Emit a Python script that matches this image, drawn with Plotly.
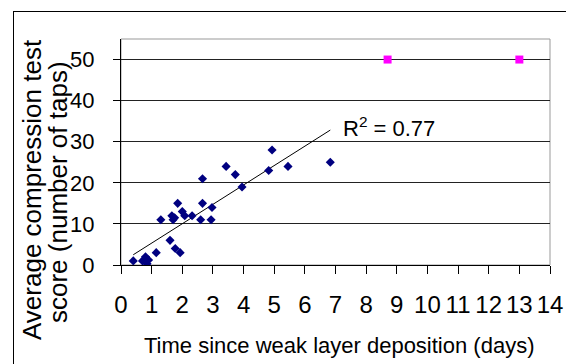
import numpy as np
import plotly.graph_objects as go

# Series 1: field observations (days, taps)
days = [0.4, 0.7, 0.8, 0.85, 0.9, 1.15, 1.3, 1.6, 1.66, 1.7, 1.75, 1.77, 1.85, 1.93,
        2.0, 2.08, 2.32, 2.6, 2.66, 2.66, 2.94, 2.97, 3.43, 3.73, 3.95, 4.82, 4.93,
        5.45, 6.83]
taps = [1, 1, 2, 0.3, 1.2, 3, 11, 6, 12, 11, 11.5, 4, 15, 3,
        13, 12, 12, 11, 21, 15, 11, 14, 24, 22, 19, 23, 28,
        24, 25]

# Series 2: no failure (plotted at 50 taps)
days_nf = [8.7, 13.0]
taps_nf = [50, 50]

x_ticks = list(range(0, 15))
y_ticks = [0, 10, 20, 30, 40, 50]
r2_label = "R<sup>2</sup> = 0.77"
x_title = "Time since weak layer deposition (days)"
y_title_lines = ["Average compression test", "score (number of taps)"]

FONT = "Liberation Sans, Arial, sans-serif"

slope, intercept = np.polyfit(days, taps, 1)
trend_x = [min(days), max(days)]
trend_y = [slope * v + intercept for v in trend_x]

# pixel geometry of the plot area
L, R, T, B, W, H = 121, 550, 39, 265, 566, 364
pw, ph = R - L, B - T


def px(xp):
    return (xp - L) / pw


def py(yp):
    return (B - yp) / ph


fig = go.Figure()
fig.add_trace(go.Scatter(x=trend_x, y=trend_y, mode="lines",
                         line=dict(color="black", width=1), hoverinfo="skip"))
fig.add_trace(go.Scatter(x=days, y=taps, mode="markers",
                         marker=dict(symbol="diamond", size=7, color="#000080",
                                     line=dict(width=0))))
fig.add_trace(go.Scatter(x=days_nf, y=taps_nf, mode="markers",
                         marker=dict(symbol="square", size=8, color="#FF00FF",
                                     line=dict(width=0))))

fig.update_layout(
    width=W, height=H,
    margin=dict(l=L, r=W - R, t=T, b=H - B, autoexpand=False),
    paper_bgcolor="white", plot_bgcolor="white",
    showlegend=False,
    font=dict(family=FONT, color="black", size=22),
    xaxis=dict(range=[0, 14], tickvals=x_ticks, ticktext=[str(v) for v in x_ticks],
               showgrid=False, zeroline=False, showline=True, linecolor="black",
               linewidth=1, ticks="outside", ticklen=8, tickcolor="black",
               tickfont=dict(size=24, family=FONT), ticklabelstandoff=10,
               automargin=False),
    yaxis=dict(range=[0, 55], tickvals=y_ticks, ticktext=[str(v) for v in y_ticks],
               showgrid=True, gridcolor="#222222", gridwidth=1, zeroline=False,
               showline=True, linecolor="black", linewidth=1, ticks="outside",
               ticklen=7, tickcolor="black", tickfont=dict(size=22, family=FONT),
               ticklabelstandoff=14, automargin=False),
    shapes=[
        dict(type="rect", xref="paper", yref="paper", x0=0, x1=1, y0=0, y1=1,
             line=dict(color="#999999", width=1), layer="below"),
    ],
    annotations=[
        dict(text=r2_label, xref="paper", yref="paper",
             x=px(389), y=py(127), showarrow=False,
             xanchor="center", yanchor="middle", font=dict(size=22)),
        dict(text=x_title, xref="paper", yref="paper",
             x=px(339), y=py(345), showarrow=False,
             xanchor="center", yanchor="middle", font=dict(size=22)),
        dict(text=y_title_lines[0], xref="paper", yref="paper",
             x=px(32), y=py(190), showarrow=False, textangle=-90,
             xanchor="center", yanchor="middle", font=dict(size=26)),
        dict(text=y_title_lines[1], xref="paper", yref="paper",
             x=px(58), y=py(192), showarrow=False, textangle=-90,
             xanchor="center", yanchor="middle", font=dict(size=26)),
    ],
)

# outer chart frame (decorative), inset like the original chart border
frame_js = """
document.body.style.margin='0';document.body.style.overflow='hidden';
var svg=document.querySelector('.main-svg');
if(svg){var r=document.createElementNS('http://www.w3.org/2000/svg','rect');
r.setAttribute('x','13.5');r.setAttribute('y','11.5');
r.setAttribute('width','600');r.setAttribute('height','400');
r.setAttribute('fill','none');r.setAttribute('stroke','black');
r.setAttribute('stroke-width','1');svg.appendChild(r);}
"""

fig.write_html("out.html", config={"displayModeBar": False}, post_script=frame_js)
